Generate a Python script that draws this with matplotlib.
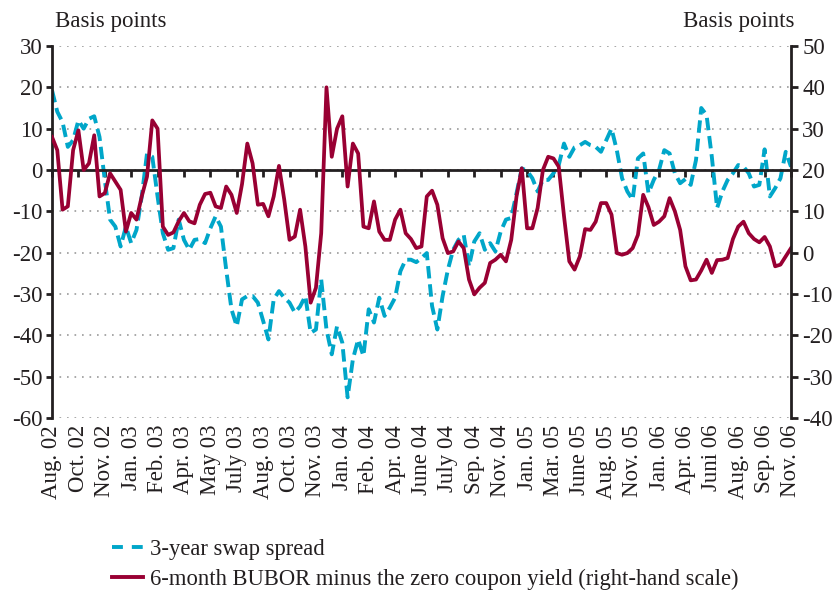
import numpy as np
import matplotlib
matplotlib.use("Agg")
import matplotlib.pyplot as plt
from matplotlib.lines import Line2D

plt.rcParams['font.family'] = ['Liberation Serif', 'DejaVu Serif']
plt.rcParams['axes.unicode_minus'] = False

# category labels on the time axis
months = ['Aug. 02', 'Oct. 02', 'Nov. 02', 'Jan. 03', 'Feb. 03', 'Apr. 03',
          'May 03', 'July 03', 'Aug. 03', 'Oct. 03', 'Nov. 03', 'Jan. 04',
          'Feb. 04', 'Apr. 04', 'June 04', 'July 04', 'Sep. 04', 'Nov. 04',
          'Jan. 05', 'Mar. 05', 'June 05', 'Aug. 05', 'Nov. 05', 'Jan. 06',
          'Apr. 06', 'Juni 06', 'Aug. 06', 'Sep. 06', 'Nov. 06']

# 3-year swap spread, basis points (left scale)
swap_spread = [
    19.3, 14.1, 11.6, 5.6, 7.2, 12.0, 10.0, 12.4, 13.0, 8.0, -2.4, -12.0,
    -13.7, -18.5, -13.7, -17.7, -14.5, -6.4, 4.0, 3.2, -6.4, -15.3, -19.3, -18.9,
    -12.0, -16.9, -19.3, -16.9, -16.7, -17.7, -14.1, -11.2, -13.7, -24.1, -33.7,
    -37.8, -31.3, -30.5, -30.5, -32.1, -36.5, -41.0, -31.3, -29.3, -30.9, -32.1, -34.5,
    -33.0, -30.5, -39.4, -38.6, -26.5, -38.6, -44.6, -37.8, -41.8, -55.0, -45.8,
    -41.0, -45.0, -33.7, -36.9, -30.9, -35.3, -33.3, -30.9, -24.5, -21.7, -21.7,
    -22.3, -21.3,
    -20.1, -32.9, -38.6, -30.5, -24.1, -19.3, -16.9, -15.7, -23.3, -17.3, -15.3,
    -19.3, -17.7, -19.7, -14.9, -12.0, -11.6, -5.6, 0.4, -0.2, -2.0, -5.2, -2.4,
    -2.4, -0.8, 1.2, 6.4, 3.2, 5.5, 6.0, 6.8, 6.0, 5.6, 4.4, 7.2, 10.0, 4.8,
    -2.0, -5.2, -7.2, 2.8, 4.0, -5.6, -2.4, 0.0, 4.8, 4.0,
    -0.8, -3.2, -2.2, -3.6, 2.4, 15.0, 13.3, 3.2, -9.2, -5.2, -2.4, -0.8, 1.2,
    0.8, -0.8, -4.0, -3.6, 5.0, -6.4, -4.4, -2.0, 4.4, 0.8]

# 6-month BUBOR minus zero coupon yield, basis points (right scale)
bubor_zero = [
    28.0, 24.8, 10.4, 11.2, 24.8, 29.6, 20.0, 21.6, 28.4, 13.6, 14.4, 19.2,
    17.2, 15.2, 5.1, 9.6, 8.0, 13.6, 18.4, 32.0, 30.0, 6.3, 4.3, 4.9,
    7.6, 9.6, 7.6, 7.1, 11.6, 14.2, 14.5, 11.2, 10.8, 16.0, 14.0, 9.6, 16.6,
    26.4, 21.6, 11.6, 11.8, 8.8, 13.6, 21.0, 12.8, 3.1, 3.9,
    10.4, 1.5, -12.1, -8.5, 4.7, 40.0, 23.2, 30.0, 33.0, 16.0, 26.4, 24.0, 6.3,
    5.9, 12.4, 5.1, 3.1, 3.1, 8.0, 10.4, 4.7, 3.3, 1.1, 1.5,
    13.6, 15.0, 11.6, 3.5, -0.1, 0.3, 2.7, 1.1, -6.5, -10.1, -8.5, -7.3, -2.5,
    -1.7, -0.5, -2.1, 3.1, 13.6, 20.4, 5.9, 5.9, 10.8, 20.0,
    23.2, 22.8, 20.8, 8.8, -2.1, -4.1, -0.9, 5.7, 5.5, 7.5, 12.0, 12.0, 9.2,
    -0.1, -0.5, -0.1, 1.1, 4.3, 14.0, 11.0, 6.7, 7.5, 8.8, 13.2,
    10.0, 5.5, -3.3, -6.7, -6.5, -4.3, -1.7, -4.9, -1.8, -1.7, -1.3, 3.3, 6.3,
    7.5, 4.7, 3.3, 2.5, 3.8, 1.5, -3.3, -2.9, -0.9, 1.1]

teal = '#00A6C9'
claret = '#990033'
ink = '#231f20'
fs = 16.5

x = np.linspace(0, len(months) - 1, len(swap_spread))

fig = plt.figure(figsize=(8.37, 5.92), dpi=100)
ax = fig.add_axes([52 / 837, 1 - 418 / 592, 739 / 837, 372 / 592])
ax2 = ax.twinx()

ax.plot(x, swap_spread, color=teal, lw=2.8, dashes=(3.2, 1.5))
ax2.plot(x, bubor_zero, color=claret, lw=2.7)

# left axis
ax.set_xlim(0, len(months) - 1)
ax.set_ylim(-60, 30)
ax.set_yticks(np.arange(-60, 31, 10))
ax.grid(axis='y', color='#9a9a9a', lw=1.2, linestyle=(0, (1, 3.5)))
ax.tick_params(axis='y', direction='out', length=4, width=2, color=ink,
               labelsize=fs, labelcolor=ink, pad=3)
ax.spines['top'].set_visible(False)
ax.spines['right'].set_visible(False)
ax.spines['left'].set_linewidth(2)
ax.spines['left'].set_color(ink)

# zero line carries the small date ticks
ax.spines['bottom'].set_position(('data', 0))
ax.spines['bottom'].set_linewidth(2)
ax.spines['bottom'].set_color(ink)
ax.set_xticks(range(len(months)))
ax.tick_params(axis='x', direction='out', length=5, width=2, color=ink,
               labelbottom=False)

# date labels at the bottom of the plot
sec = ax.secondary_xaxis('bottom')
sec.set_xticks(range(len(months)), months, rotation=90)
sec.tick_params(length=0, pad=5, labelsize=fs, labelcolor=ink)
sec.spines['bottom'].set_visible(False)

# right axis
ax2.set_ylim(-40, 50)
ax2.set_yticks(np.arange(-40, 51, 10))
ax2.tick_params(axis='y', direction='out', length=5, width=2, color=ink,
                labelsize=fs, labelcolor=ink, pad=3)
for side in ['top', 'bottom', 'left']:
    ax2.spines[side].set_visible(False)
ax2.spines['right'].set_linewidth(2)
ax2.spines['right'].set_color(ink)

fig.text(55 / 837, 1 - 22 / 592, 'Basis points', fontsize=fs, color=ink,
         ha='left', va='center')
fig.text(795 / 837, 1 - 22 / 592, 'Basis points', fontsize=fs, color=ink,
         ha='right', va='center')

handles = [Line2D([], [], color=teal, lw=2.8, dashes=(2.8, 2.3)),
           Line2D([], [], color=claret, lw=2.8)]
labels = ['3-year swap spread',
          '6-month BUBOR minus the zero coupon yield (right-hand scale)']
fig.legend(handles, labels, loc='upper left',
           bbox_to_anchor=(112 / 837, 1 - 539 / 592), frameon=False,
           fontsize=16.3, handlelength=1.37, handletextpad=0.3,
           labelspacing=0.38, borderaxespad=0, borderpad=0, labelcolor=ink)

fig.savefig('out.png', dpi=100)
